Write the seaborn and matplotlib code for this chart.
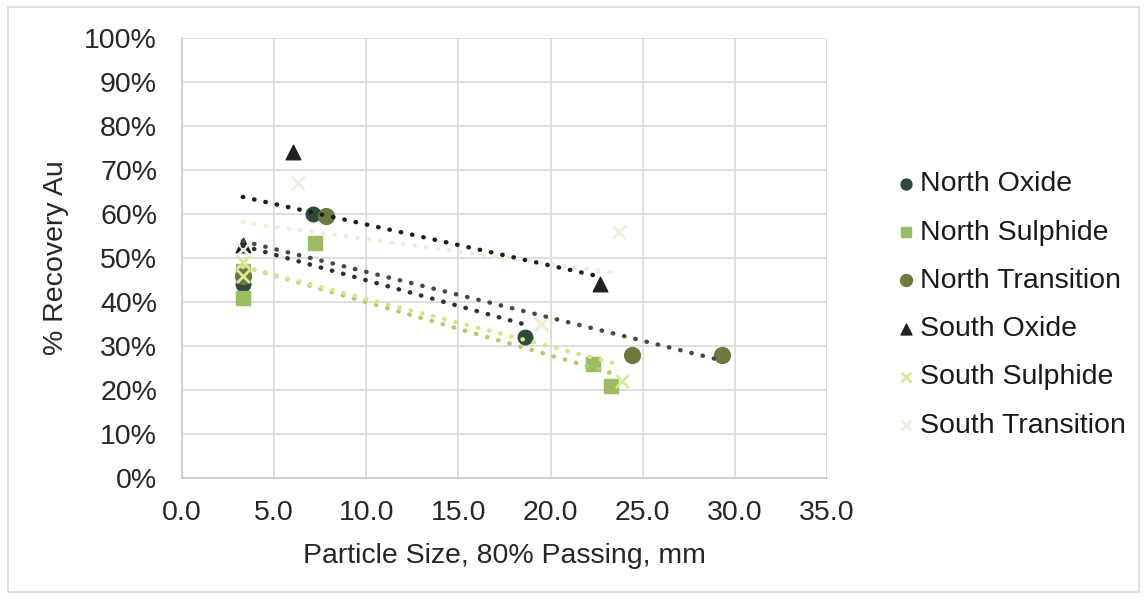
import matplotlib
matplotlib.use("Agg")
import matplotlib.pyplot as plt
import matplotlib.patches as mpatches
from matplotlib.ticker import FuncFormatter, MultipleLocator
import seaborn as sns
import pandas as pd

series_names = ["North Oxide", "North Sulphide", "North Transition",
                "South Oxide", "South Sulphide", "South Transition"]

north_oxide_x = [3.3, 7.1, 18.6]
north_oxide_y = [0.44, 0.60, 0.32]

north_sulphide_x = [3.3, 3.3, 7.2, 22.3, 23.3]
north_sulphide_y = [0.41, 0.47, 0.535, 0.26, 0.21]

north_transition_x = [3.3, 7.8, 24.4, 29.3]
north_transition_y = [0.46, 0.595, 0.28, 0.28]

south_oxide_x = [3.3, 6.0, 22.7]
south_oxide_y = [0.53, 0.74, 0.44]

south_sulphide_x = [3.3, 3.3, 19.5, 23.9]
south_sulphide_y = [0.46, 0.49, 0.35, 0.22]

south_transition_x = [3.3, 6.3, 19.4, 23.7]
south_transition_y = [0.52, 0.67, 0.35, 0.56]

xs = [north_oxide_x, north_sulphide_x, north_transition_x,
      south_oxide_x, south_sulphide_x, south_transition_x]
ys = [north_oxide_y, north_sulphide_y, north_transition_y,
      south_oxide_y, south_sulphide_y, south_transition_y]

colors = ["#2f4a3c", "#9dbb61", "#6b7b3f", "#1c241c", "#d8e99c", "#edf2e0"]
line_colors = ["#2a332d", "#b0cc70", "#474c3a", "#1e1e1e", "#d5e68a", "#eaf0dc"]
markers = ["o", "s", "o", "^", "X", "X"]
sizes = [110, 110, 130, 110, 90, 90]

sns.set_theme(style="white")
plt.rcParams['font.family'] = ['Liberation Sans', 'DejaVu Sans']

fig = plt.figure(figsize=(11.45, 5.99), dpi=100)
ax = fig.add_axes([182/1145, 1-478/599, (827-182)/1145, (478-38)/599])

handles = []
for name, x, y, c, lc, m, s in zip(series_names, xs, ys, colors, line_colors, markers, sizes):
    df = pd.DataFrame({"x": x, "y": y})
    if m == "X":
        sc = ax.scatter(df["x"], df["y"], marker="x", s=s, color=c, linewidths=2, zorder=3, label=name)
    else:
        sc = ax.scatter(df["x"], df["y"], marker=m, s=s, color=c, edgecolors=c, zorder=3, label=name)
    handles.append(sc)

for name, x, y, lc in zip(series_names, xs, ys, line_colors):
    df = pd.DataFrame({"x": x, "y": y})
    sns.regplot(data=df, x="x", y="y", ax=ax, scatter=False, ci=None, truncate=True,
                line_kws=dict(color=lc, lw=3.2, linestyle=(0, (0.1, 2.5)),
                              dash_capstyle="round", zorder=4))

ax.set_xlim(0, 35)
ax.set_ylim(0, 1.0)
ax.xaxis.set_major_locator(MultipleLocator(5))
ax.yaxis.set_major_locator(MultipleLocator(0.1))
ax.xaxis.set_major_formatter(FuncFormatter(lambda v, p: f"{v:.1f}"))
ax.yaxis.set_major_formatter(FuncFormatter(lambda v, p: f"{v*100:.0f}%"))
ax.grid(True, color="#d9d9d9", lw=1.2)
ax.set_axisbelow(True)
for sp in ["top", "right"]:
    ax.spines[sp].set_visible(False)
for sp in ["left", "bottom"]:
    ax.spines[sp].set_color("#c8c8c8")
    ax.spines[sp].set_linewidth(1.2)
ax.tick_params(axis="y", labelsize=20.5, colors="#262626", length=0, pad=18)
ax.tick_params(axis="x", labelsize=20.5, colors="#262626", length=0, pad=16)
ax.set_xlabel("Particle Size, 80% Passing, mm", fontsize=20.5, color="#262626", labelpad=12)
ax.set_ylabel("% Recovery Au", fontsize=20.5, color="#262626", labelpad=11)

leg = fig.legend(handles=handles, labels=series_names, loc="center left",
                 bbox_to_anchor=(872/1145, 1-305/599), frameon=False,
                 fontsize=20.5, handlelength=0.6, handletextpad=0.2,
                 labelspacing=0.78, markerscale=0.75)
for t in leg.get_texts():
    t.set_color("#1a1a1a")

fig.patches.append(mpatches.Rectangle((8/1145, 1-592/599), (1139-8)/1145, (592-7)/599,
                                      transform=fig.transFigure, fill=False,
                                      edgecolor="#d9d9d9", lw=1.2))

fig.savefig("out.png", dpi=100)
